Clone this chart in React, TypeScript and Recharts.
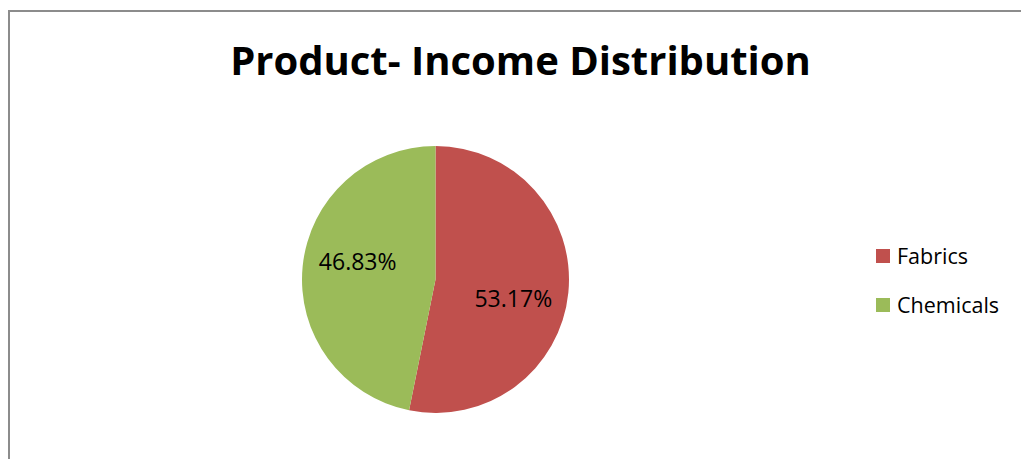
import { PieChart, Pie, Cell, Legend } from 'recharts';

// Income share by product line (percent)
const products = ['Fabrics', 'Chemicals'];
const incomeShare = [53.17, 46.83];
const sliceColors = ['#C0504D', '#9BBB59'];

const data = products.map((name, i) => ({ name, value: incomeShare[i] }));

const FONT = '"Open Sans", Calibri, sans-serif';
const RAD = Math.PI / 180;

// Excel-ish "best fit" labels: a bit inside the slice, nudged clockwise
function renderLabel(props: any) {
  const { cx, cy, midAngle, outerRadius, percent } = props;
  const r = outerRadius * 0.6;
  const a = (midAngle - 8) * RAD;
  const x = cx + r * Math.cos(a);
  const y = cy - r * Math.sin(a);
  return (
    <text
      x={x}
      y={y}
      textAnchor="middle"
      dominantBaseline="central"
      fill="#000"
      fontSize={23}
      fontFamily={FONT}
    >
      {(percent * 100).toFixed(2)}%
    </text>
  );
}

function LegendContent({ payload }: any) {
  // keep the series order (recharts sorts legend items by name)
  const items = [...(payload || [])].sort(
    (a: any, b: any) => products.indexOf(a.value) - products.indexOf(b.value)
  );
  return (
    <div style={{ fontFamily: FONT, fontSize: 21.5, color: '#000' }}>
      {items.map((entry: any) => (
        <div
          key={entry.value}
          style={{ display: 'flex', alignItems: 'center', height: 49 }}
        >
          <span
            style={{
              width: 14,
              height: 14,
              background: entry.color,
              marginRight: 7,
              display: 'inline-block',
              flexShrink: 0,
            }}
          />
          <span>{entry.value}</span>
        </div>
      ))}
    </div>
  );
}

export default function App() {
  return (
    <div
      style={{
        position: 'fixed',
        left: 0,
        top: 0,
        width: 1021,
        height: 459,
        overflow: 'hidden',
        background: '#fff',
      }}
    >
      <div
        style={{
          position: 'absolute',
          left: 8,
          top: 10,
          width: 1100,
          height: 520,
          border: '2px solid #8c8c8c',
          boxSizing: 'border-box',
        }}
      />
      <div
        style={{
          position: 'absolute',
          left: 0,
          width: 1041,
          top: 34,
          textAlign: 'center',
          fontFamily: FONT,
          fontWeight: 700,
          fontSize: 40,
          lineHeight: '52px',
          color: '#000',
          whiteSpace: 'nowrap',
        }}
      >
        Product- Income Distribution
      </div>
      <div style={{ position: 'absolute', left: 0, top: 0 }}>
        <PieChart width={1021} height={459}>
          <Pie
            data={data}
            dataKey="value"
            nameKey="name"
            cx={430.5}
            cy={274.5}
            outerRadius={133.5}
            startAngle={90}
            endAngle={-270}
            stroke="none"
            label={renderLabel}
            labelLine={false}
            isAnimationActive={false}
          >
            {data.map((entry, i) => (
              <Cell key={entry.name} fill={sliceColors[i]} />
            ))}
          </Pie>
          <Legend
            layout="vertical"
            align="right"
            verticalAlign="top"
            wrapperStyle={{ left: 876, top: 231, width: 145 }}
            content={<LegendContent />}
          />
        </PieChart>
      </div>
    </div>
  );
}
